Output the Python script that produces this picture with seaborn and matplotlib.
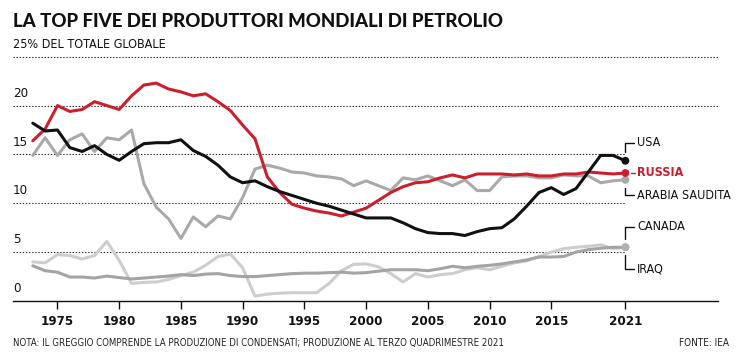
import matplotlib
matplotlib.use("Agg")
import matplotlib.pyplot as plt
import matplotlib.transforms as mtransforms
import pandas as pd
import seaborn as sns

# quota della produzione mondiale di petrolio (%), 1973-2021
years = list(range(1973, 2022))

usa = [18.2, 17.4, 17.5, 15.7, 15.3, 15.9, 15.0, 14.4, 15.3, 16.1, 16.2, 16.2, 16.5, 15.4,
       14.8, 13.9, 12.7, 12.1, 12.3, 11.7, 11.2, 10.8, 10.4, 10.0, 9.7, 9.3, 8.9, 8.5,
       8.5, 8.5, 8.0, 7.4, 7.0, 6.9, 6.9, 6.7, 7.1, 7.4, 7.5, 8.4, 9.7, 11.1, 11.6, 10.9,
       11.5, 13.2, 14.9, 14.9, 14.35]

russia = [16.4, 17.6, 20.0, 19.4, 19.6, 20.4, 20.0, 19.6, 21.0, 22.1, 22.3, 21.7, 21.4, 21.0,
          21.2, 20.4, 19.5, 18.0, 16.6, 12.7, 11.1, 9.9, 9.5, 9.2, 9.0, 8.7, 9.1, 9.5,
          10.3, 11.1, 11.7, 12.1, 12.2, 12.6, 12.9, 12.6, 13.0, 13.0, 13.0, 12.9, 13.0, 12.8,
          12.8, 13.0, 13.0, 13.2, 13.1, 13.0, 13.1]

saudi = [14.9, 16.7, 14.9, 16.5, 17.1, 15.3, 16.7, 16.5, 17.5, 12.0, 9.6, 8.4, 6.4, 8.6,
         7.6, 8.7, 8.4, 10.6, 13.5, 13.9, 13.6, 13.2, 13.1, 12.8, 12.7, 12.5, 11.8, 12.3,
         11.8, 11.3, 12.6, 12.4, 12.8, 12.3, 11.8, 12.4, 11.3, 11.3, 12.7, 12.8, 12.8, 12.6,
         12.6, 12.9, 12.8, 12.8, 12.1, 12.3, 12.4]

canada = [3.6, 3.1, 2.95, 2.45, 2.45, 2.35, 2.55, 2.4, 2.25, 2.35, 2.45, 2.55, 2.7, 2.6,
          2.75, 2.8, 2.6, 2.5, 2.5, 2.6, 2.7, 2.8, 2.85, 2.85, 2.9, 2.95, 2.85, 2.9,
          3.05, 3.2, 3.2, 3.2, 3.1, 3.3, 3.55, 3.4, 3.55, 3.65, 3.8, 4.0, 4.2, 4.5,
          4.5, 4.55, 5.0, 5.25, 5.4, 5.5, 5.5]

iraq = [4.0, 3.9, 4.75, 4.65, 4.3, 4.65, 6.1, 4.15, 1.8, 1.9, 1.95, 2.2, 2.6, 2.95,
        3.65, 4.55, 4.8, 3.4, 0.5, 0.7, 0.8, 0.85, 0.85, 0.85, 1.8, 3.1, 3.75, 3.8,
        3.5, 2.8, 1.95, 2.8, 2.45, 2.7, 2.8, 3.2, 3.4, 3.2, 3.55, 3.9, 4.1, 4.55,
        5.0, 5.35, 5.5, 5.6, 5.75, 5.35, 5.5]

countries = ["IRAQ", "CANADA", "ARABIA SAUDITA", "RUSSIA", "USA"]
colors = {"IRAQ": "#cdcdcd", "CANADA": "#a4a4a4", "ARABIA SAUDITA": "#a9a9a9",
          "RUSSIA": "#cc1f2d", "USA": "#111111"}
x_ticks = [1975, 1980, 1985, 1990, 1995, 2000, 2005, 2010, 2015, 2021]
y_grid = [5, 10, 15, 20, 25]
y_labels = [0, 5, 10, 15, 20]

series = {"USA": usa, "RUSSIA": russia, "ARABIA SAUDITA": saudi, "CANADA": canada, "IRAQ": iraq}
df = pd.concat([pd.DataFrame({"anno": years, "quota": v, "paese": k}) for k, v in series.items()])

sns.set_style("white")
plt.rcParams["font.family"] = ["DejaVu Sans"]
plt.rcParams["font.stretch"] = "condensed"

fig = plt.figure(figsize=(7.44, 3.59), dpi=100)
ax = fig.add_axes([0.0175, 0.1616, 0.9475, 0.694])

# griglia tratteggiata
for g in y_grid:
    xmax = 2028.5 if g >= 20 else 2021
    ax.hlines(g, 1971.4, xmax, colors="#222222", linestyles=(0, (1.2, 1.6)), linewidth=0.8, zorder=1)

sns.lineplot(data=df, x="anno", y="quota", hue="paese", hue_order=countries,
             palette=colors, linewidth=2.2, legend=False, ax=ax, zorder=3)

# punti finali 2021
last = df[df["anno"] == 2021]
for c in countries:
    v = last.loc[last["paese"] == c, "quota"].iloc[0]
    ax.scatter(2021, v, s=32, color=colors[c] if c not in ("IRAQ", "CANADA") else "#b0b0b0",
               zorder=5, edgecolor="none")

# etichette a destra con linee guida
lc = "#111111"
lab = dict(va="center", ha="left", fontsize=9, fontstretch="condensed")
ax.plot([2021, 2021, 2021.7], [14.35 + 0.9, 16.2, 16.2], color=lc, lw=1, zorder=2)
ax.text(2021.95, 16.2, "USA", color="#111111", **lab)
ax.plot([2021.45, 2021.8], [13.1, 13.1], color="#cc1f2d", lw=1, zorder=2)
ax.text(2021.95, 13.1, "RUSSIA", color="#cc1f2d", fontweight="bold", **lab)
ax.plot([2021, 2021, 2021.7], [12.4 - 0.8, 10.8, 10.8], color=lc, lw=1, zorder=2)
ax.text(2021.95, 10.8, "ARABIA SAUDITA", color="#111111", **lab)
ax.plot([2021, 2021, 2021.7], [5.5 + 0.8, 7.6, 7.6], color=lc, lw=1, zorder=2)
ax.text(2021.95, 7.6, "CANADA", color="#111111", **lab)
ax.plot([2021, 2021, 2021.7], [5.5 - 0.8, 3.3, 3.3], color=lc, lw=1, zorder=2)
ax.text(2021.95, 3.3, "IRAQ", color="#111111", **lab)

ax.set_xlim(1971.4, 2028.5)
ax.set_ylim(0, 25.5)
ax.set_xticks(x_ticks)
ax.set_xticklabels([str(t) for t in x_ticks], fontweight="bold", fontsize=9.5, fontstretch="condensed")
ax.set_yticks([])
ax.tick_params(axis="x", direction="out", length=6, width=1, pad=4, colors="#111111", bottom=True)
ax.set_xlabel("")
ax.set_ylabel("")
for s in ["top", "right", "left"]:
    ax.spines[s].set_visible(False)
ax.spines["bottom"].set_color("#111111")
ax.spines["bottom"].set_linewidth(1)

# etichette asse y sopra le linee
trans = mtransforms.blended_transform_factory(ax.transAxes, ax.transData)
for v in y_labels:
    ax.text(0.0, v + 0.6, str(v), transform=trans, ha="left", va="bottom", fontsize=9.5,
            fontstretch="condensed", color="#111111")

fig.text(0.0175, 0.965, "LA TOP FIVE DEI PRODUTTORI MONDIALI DI PETROLIO", ha="left", va="top",
         fontsize=13.4, fontweight="black", family=["Lato", "DejaVu Sans"], color="#111111")
fig.text(0.0175, 0.877, "25% DEL TOTALE GLOBALE", ha="left", va="center", fontsize=9,
         fontstretch="condensed", color="#111111")
fig.text(0.0175, 0.045, "NOTA: IL GREGGIO COMPRENDE LA PRODUZIONE DI CONDENSATI; PRODUZIONE AL TERZO QUADRIMESTRE 2021",
         ha="left", va="center", fontsize=6.9, fontstretch="condensed", color="#222222")
fig.text(0.98, 0.045, "FONTE: IEA", ha="right", va="center", fontsize=7.2, fontstretch="condensed", color="#222222")

fig.savefig("out.png", dpi=100)
